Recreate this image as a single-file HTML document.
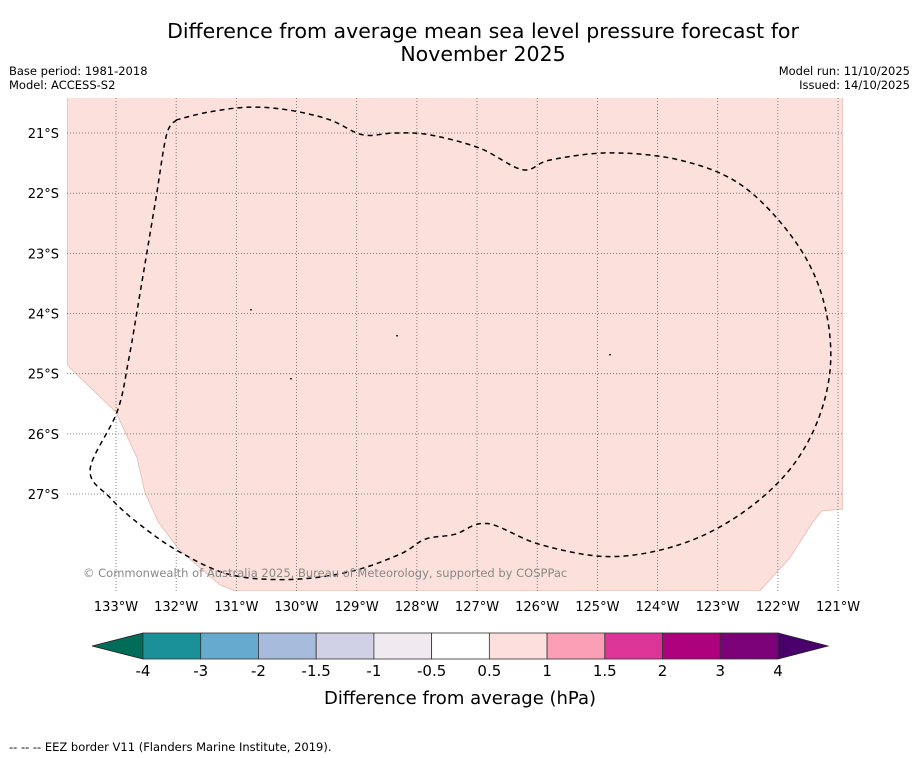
<!DOCTYPE html>
<html><head><meta charset="utf-8">
<style>
body{margin:0;background:#fff;font-family:"DejaVu Sans","Liberation Sans",sans-serif;}
svg{display:block}
</style></head>
<body>
<svg id="chart" width="919" height="758" viewBox="0 0 919 758" xmlns="http://www.w3.org/2000/svg">
<rect width="919" height="758" fill="#fff"/>
<text x="483" y="38" text-anchor="middle" font-size="20.5">Difference from average mean sea level pressure forecast for</text>
<text x="483" y="61" text-anchor="middle" font-size="20.5">November 2025</text>
<text x="9" y="75" font-size="11.5">Base period: 1981-2018</text>
<text x="9" y="89" font-size="11.5">Model: ACCESS-S2</text>
<text x="910" y="75" font-size="11.5" text-anchor="end">Model run: 11/10/2025</text>
<text x="910" y="89" font-size="11.5" text-anchor="end">Issued: 14/10/2025</text>
<defs><clipPath id="mapclip"><rect x="67" y="98" width="776" height="493"/></clipPath></defs>
<g id="map" clip-path="url(#mapclip)"></g>
<g id="axes"></g>
<text x="83" y="577" font-size="11.5" fill="#888">© Commonwealth of Australia 2025, Bureau of Meteorology, supported by COSPPac</text>
<g id="cbar"></g>
<text x="460" y="704" text-anchor="middle" font-size="18">Difference from average (hPa)</text>
<text x="9" y="751" font-size="11.5">--  --  -- EEZ border V11 (Flanders Marine Institute, 2019).</text>
</svg>
<script>
const lonTicks=[-133,-132,-131,-130,-129,-128,-127,-126,-125,-124,-123,-122,-121];
const latTicks=[-21,-22,-23,-24,-25,-26,-27];
// EEZ contour (lon, lat)
const eezLon=[-131.99,-132.16,-132.34,-132.59,-132.79,-132.98,-133.43,-133.10,-132.60,-131.93,-131.10,-130.10,-129.11,-128.28,-127.86,-127.37,-126.83,-125.95,-124.79,-123.63,-122.63,-121.80,-121.30,-121.12,-121.30,-121.80,-122.63,-123.63,-124.79,-125.79,-126.24,-126.96,-127.79,-128.37,-128.90,-129.45,-130.12,-130.78,-131.45,-131.99];
const eezLat=[-20.78,-21.03,-22.11,-23.60,-24.77,-25.63,-26.59,-27.06,-27.51,-27.97,-28.34,-28.42,-28.29,-28.00,-27.75,-27.67,-27.49,-27.84,-28.04,-27.84,-27.34,-26.59,-25.68,-24.68,-23.60,-22.68,-21.85,-21.45,-21.33,-21.45,-21.61,-21.25,-21.03,-21.00,-21.03,-20.78,-20.62,-20.57,-20.65,-20.78];
// data region boundary (lon, lat)
const fillLon=[-133.81,-133.0,-132.65,-132.52,-132.30,-131.97,-131.60,-131.27,-131.02,-122.30,-121.80,-121.43,-121.27,-120.92,-120.92,-133.81];
const fillLat=[-24.86,-25.64,-26.40,-26.97,-27.46,-27.90,-28.23,-28.51,-28.61,-28.61,-28.06,-27.48,-27.28,-27.25,-20.40,-20.40];
const cbTicks=["-4","-3","-2","-1.5","-1","-0.5","0.5","1","1.5","2","3","4"];
const cbColors=["#1a9098","#67aad0","#a7bcdc","#d0d1e6","#f0eaf0","#ffffff","#fde0dd","#fa9fb5","#dd3497","#ae017e","#7a0177"];
const cbUnder="#016c59", cbOver="#49006a";

const NS="http://www.w3.org/2000/svg";
const X=lon=>116+(lon+133)*60.17;
const Y=lat=>133+(-lat-21)*60.17;
function mk(t,a,p){const e=document.createElementNS(NS,t);for(const k in a)e.setAttribute(k,a[k]);p.appendChild(e);return e;}
const map=document.getElementById('map'), axes=document.getElementById('axes');
let d=fillLon.map((v,i)=>(i?'L':'M')+X(v)+','+Y(fillLat[i])).join('')+'Z';
const f=mk('path',{d:d,fill:'#fce0dc',stroke:'#e8b8b2','stroke-width':0.8},map);


lonTicks.forEach(l=>{
 const g=mk('line',{x1:X(l),x2:X(l),y1:98,y2:591,stroke:'#666','stroke-width':0.8,'stroke-dasharray':'1,2'},map);
 
 
 const t=mk('text',{x:X(l),y:611,'text-anchor':'middle','font-size':13},axes);
 t.textContent=Math.abs(l)+'°W';
 
 
});
latTicks.forEach(l=>{
 const g=mk('line',{x1:67,x2:843,y1:Y(l),y2:Y(l),stroke:'#666','stroke-width':0.8,'stroke-dasharray':'1,2'},map);
 
 
 const t=mk('text',{x:59,y:Y(l)+5,'text-anchor':'end','font-size':13},axes);
 t.textContent=Math.abs(l)+'°S';
 
 
});
// smooth EEZ with Catmull-Rom
const P=eezLon.map((v,i)=>[X(v),Y(eezLat[i])]);
d='M'+P[0][0]+','+P[0][1];
for(let i=0;i<P.length-1;i++){
 const p0=P[Math.max(i-1,0)],p1=P[i],p2=P[i+1],p3=P[Math.min(i+2,P.length-1)];
 const c1=[p1[0]+(p2[0]-p0[0])/6,p1[1]+(p2[1]-p0[1])/6];
 const c2=[p2[0]-(p3[0]-p1[0])/6,p2[1]-(p3[1]-p1[1])/6];
 d+=`C${c1[0]},${c1[1]} ${c2[0]},${c2[1]} ${p2[0]},${p2[1]}`;
}
const e=mk('path',{d:d,fill:'none',stroke:'#000','stroke-width':1.5,'stroke-dasharray':'5,4'},map);


[[250,309],[290,378],[396,335],[609,354]].forEach(p=>{mk('rect',{x:p[0],y:p[1],width:2,height:1.5,fill:'#333'},map);});
// colorbar
const cb=document.getElementById('cbar');
const x0=143,x1=778,y0=633,y1=659,n=cbColors.length,w=(x1-x0)/n;
const lt=mk('polygon',{points:`${x0},${y0} ${x0},${y1} 92,646`,fill:cbUnder,stroke:'#222','stroke-width':0.8},cb);


const rt=mk('polygon',{points:`${x1},${y0} ${x1},${y1} 828,646`,fill:cbOver,stroke:'#222','stroke-width':0.8},cb);


cbColors.forEach((c,i)=>{
 const r=mk('rect',{x:x0+i*w,y:y0,width:w,height:y1-y0,fill:c,stroke:'#333','stroke-width':0.8},cb);
 
 
});
cbTicks.forEach((t,i)=>{
 const s=mk('text',{x:x0+i*w,y:676,'text-anchor':'middle','font-size':15},cb);
 s.textContent=t;
 
 
});
</script>
</body></html>
